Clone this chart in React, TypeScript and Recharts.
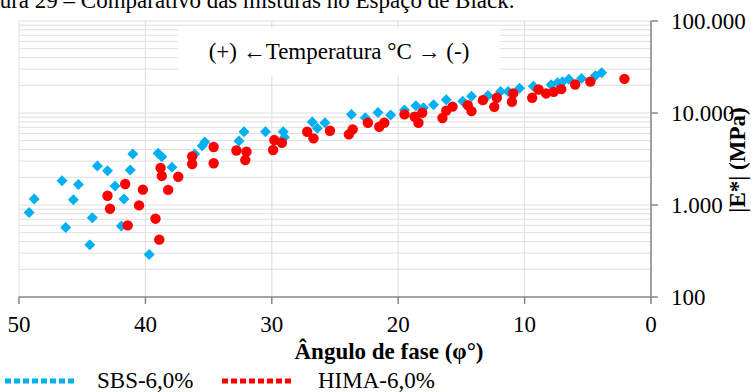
import { CartesianGrid, ReferenceLine, Scatter, ScatterChart, XAxis, YAxis } from "recharts";

const sbsPhase = [
  49.2, 48.8, 46.6, 46.3, 45.7, 45.3, 44.4, 44.2, 43.8, 43.0, 42.4, 41.9, 41.7, 41.2, 41.0, 39.7, 39.0, 38.7,
  37.9, 36.1, 35.5, 35.3, 32.6, 32.2, 30.5, 29.1, 29.0, 26.8, 26.4, 25.8, 23.7, 22.6, 21.6, 20.6, 19.5, 18.6,
  18.0, 17.2, 16.2, 14.9, 14.2, 12.9, 11.9, 11.3, 10.4, 9.3, 7.9, 7.4, 7.0, 6.5, 5.5, 4.4, 3.9
];
const sbsModulus = [
  830, 1160, 1840, 570, 1140, 1670, 370, 725, 2650, 2360, 1610, 590, 1160, 2400, 3580, 290, 3650, 3350, 2570,
  3580, 4410, 4830, 4960, 6250, 6250, 6250, 5440, 7970, 6810, 7830, 9660, 8870, 10150, 9490, 10750, 11970,
  11390, 12270, 13900, 13460, 15250, 15520, 17150, 17150, 18620, 19580, 20220, 21270, 21920, 23320, 23730,
  25330, 27420
];

const himaPhase = [
  43.0, 42.8, 41.6, 41.4, 40.5, 40.2, 39.2, 38.9, 38.8, 38.7, 38.2, 37.4, 36.3, 36.3, 34.6, 34.6, 32.8, 32.0,
  32.1, 29.9, 29.8, 29.2, 27.2, 26.7, 25.4, 23.9, 23.6, 22.4, 21.5, 21.1, 19.5, 18.7, 18.4, 18.1, 16.5, 16.2,
  15.7, 14.5, 14.2, 13.3, 12.4, 12.2, 11.0, 10.9, 9.4, 8.9, 8.3, 7.7, 7.1, 6.0, 4.8, 2.1
];
const himaModulus = [
  1260, 910, 1690, 600, 990, 1470, 710, 420, 2530, 2070, 1460, 2030, 3380, 2790, 4270, 2840, 3910, 3800, 3080,
  3960, 5080, 4750, 6250, 5300, 6410, 5860, 6640, 7830, 7080, 7830, 9660, 9100, 7830, 10050, 8810, 10620,
  11730, 12180, 10490, 13800, 11670, 14620, 13230, 16320, 14620, 18030, 16320, 16980, 18170, 20420, 21920,
  23500
];

const xTicks = [0, 10, 20, 30, 40, 50];
const yTicks = [100, 1000, 10000, 100000];
const minorSteps = [2, 3, 4, 5, 6, 7, 8, 9];

const seriesLabels = ["SBS-6,0%", "HIMA-6,0%"];
const xTitle = "Ângulo de fase (φ°)";
const yTitle = "|E*| (MPa)";
const note = "(+) ←Temperatura °C → (-)";
const caption = "Figura 29 – Comparativo das misturas no Espaço de Black.";

const sbsData = sbsPhase.map((phase, i) => ({ phase, modulus: sbsModulus[i] }));
const himaData = himaPhase.map((phase, i) => ({ phase, modulus: himaModulus[i] }));

// log minor lines per decade plus the majors
const gridValues = [100, 1000, 10000]
  .flatMap((d) => minorSteps.map((k) => k * d))
  .concat([1000, 10000, 100000]);

const BLUE = "#00B0F0";
const RED = "#FF0000";
const GRID = "#dedede";
const FONT = "'Liberation Serif', 'Times New Roman', serif";

const fmt = (v: number) => String(v).replace(/\B(?=(\d{3})+(?!\d))/g, ".");

function Diamond(props: any) {
  const { cx, cy } = props;
  const r = 5.5;
  return <polygon points={`${cx},${cy - r} ${cx + r},${cy} ${cx},${cy + r} ${cx - r},${cy}`} fill={BLUE} />;
}

function Dot(props: any) {
  const { cx, cy } = props;
  return <circle cx={cx} cy={cy} r={5.2} fill={RED} />;
}

export default function App() {
  return (
    <div
      style={{
        position: "absolute",
        left: 0,
        top: 0,
        width: 751,
        height: 392,
        overflow: "hidden",
        background: "#fff",
        fontFamily: FONT,
        color: "#000"
      }}
    >
      <div style={{ position: "absolute", left: -31, top: -11, fontSize: 23, lineHeight: "23px", whiteSpace: "nowrap" }}>
        {caption}
      </div>

      <div style={{ position: "absolute", left: 0, top: 0 }}>
        <ScatterChart width={751} height={392} margin={{ top: 21, right: 0, left: 19, bottom: 0 }}>
          <CartesianGrid stroke={GRID} strokeWidth={1} horizontal={false} verticalValues={xTicks} />
          <XAxis
            type="number"
            dataKey="phase"
            domain={[0, 50]}
            ticks={xTicks}
            reversed
            height={95}
            axisLine={{ stroke: "#868686", strokeWidth: 1.5 }}
            tickLine={{ stroke: "#868686", strokeWidth: 1.5 }}
            tickSize={7}
            tickMargin={12}
            tick={{ fontSize: 23, fill: "#000", fontFamily: FONT }}
          />
          <YAxis
            type="number"
            dataKey="modulus"
            scale="log"
            domain={[100, 100000]}
            ticks={yTicks}
            allowDataOverflow
            orientation="right"
            width={100}
            axisLine={{ stroke: "#868686", strokeWidth: 1.5 }}
            tickLine={{ stroke: "#868686", strokeWidth: 1.5 }}
            tickSize={7}
            tickMargin={13}
            tickFormatter={fmt}
            tick={{ fontSize: 23, fill: "#000", fontFamily: FONT }}
          />
          {gridValues.map((v, i) => (
            <ReferenceLine key={`g${i}`} y={v} stroke={GRID} strokeWidth={1} />
          ))}
          <Scatter name={seriesLabels[0]} data={sbsData} shape={<Diamond />} isAnimationActive={false} />
          <Scatter name={seriesLabels[1]} data={himaData} shape={<Dot />} isAnimationActive={false} />
        </ScatterChart>
      </div>

      <div
        style={{
          position: "absolute",
          left: 178,
          top: 28,
          width: 322,
          height: 48,
          background: "#fff",
          display: "flex",
          alignItems: "center",
          justifyContent: "center",
          fontSize: 23,
          whiteSpace: "nowrap"
        }}
      >
        {note}
      </div>

      <div
        style={{
          position: "absolute",
          left: 389,
          top: 352,
          transform: "translate(-50%, -50%)",
          fontSize: 23,
          fontWeight: "bold",
          whiteSpace: "nowrap"
        }}
      >
        {xTitle}
      </div>

      <div
        style={{
          position: "absolute",
          left: 738,
          top: 160,
          transform: "translate(-50%, -50%) rotate(-90deg)",
          fontSize: 23,
          fontWeight: "bold",
          whiteSpace: "nowrap"
        }}
      >
        {yTitle}
      </div>

      <svg style={{ position: "absolute", left: 0, top: 0 }} width={751} height={392}>
        <line x1={5} y1={381} x2={77} y2={381} stroke={BLUE} strokeWidth={5} strokeDasharray="6 3" />
        <line x1={222} y1={381} x2={294} y2={381} stroke={RED} strokeWidth={5} strokeDasharray="6 3" />
      </svg>
      <div style={{ position: "absolute", left: 97, top: 369, fontSize: 23, lineHeight: "23px", whiteSpace: "nowrap" }}>
        {seriesLabels[0]}
      </div>
      <div style={{ position: "absolute", left: 318, top: 369, fontSize: 23, lineHeight: "23px", whiteSpace: "nowrap" }}>
        {seriesLabels[1]}
      </div>
    </div>
  );
}
